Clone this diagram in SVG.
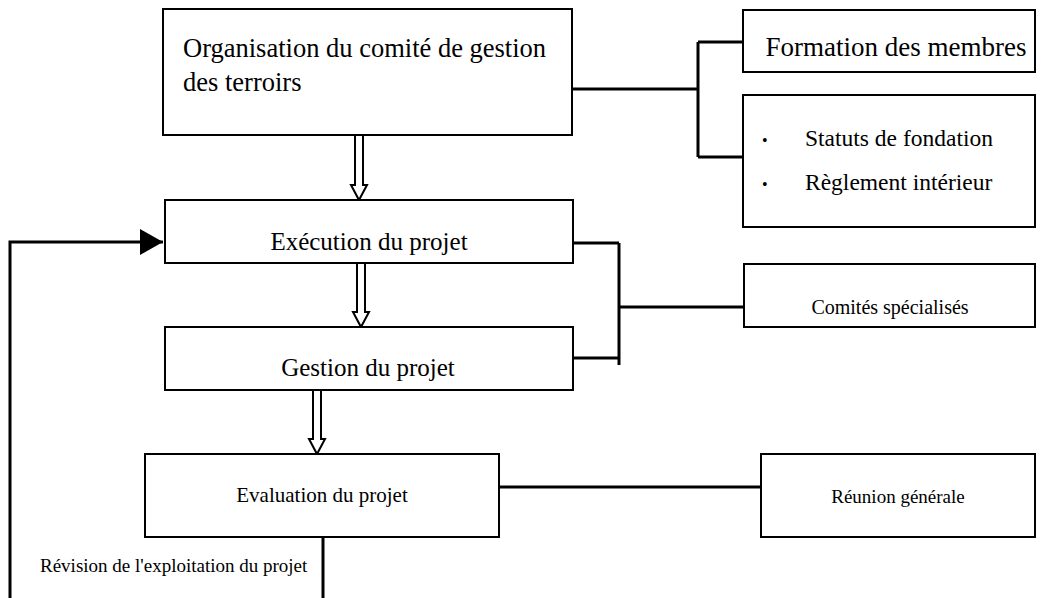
<svg xmlns="http://www.w3.org/2000/svg" width="1043" height="598" viewBox="0 0 1043 598">
<style>
.box{fill:#fff;stroke:#000;stroke-width:2}
.t{font-family:"Liberation Serif","Times New Roman",serif;fill:#000}
.c{text-anchor:middle}
.ln{fill:none;stroke:#000;stroke-width:3}
.dbl{fill:#fff;stroke:#000;stroke-width:2}
</style>
<defs>
<marker id="ah" markerUnits="userSpaceOnUse" markerWidth="24" markerHeight="26" refX="23" refY="13" orient="auto">
<path d="M0,0 L23,13 L0,26 z" fill="#000"/>
</marker>
<path id="darr" d="M-4,0 V49 H-8 L0,64 L8,49 H4 V0"/>
</defs>
<rect width="1043" height="598" fill="#fff"/>
<g id="connectors">
<path class="ln" d="M573,89 H698 M698,42 V157 M698,42 H743 M698,157 H743"/>
<path class="ln" d="M573,243 H619 M573,358 H619 M619,243 V365 M619,307 H744"/>
<path class="ln" d="M499,487 H761"/>
<path class="ln" d="M323,537 V598 M10,598 V242 H163" marker-end="url(#ah)"/>
<use href="#darr" class="dbl" x="359" y="136"/>
<use href="#darr" class="dbl" x="361" y="263"/>
<use href="#darr" class="dbl" x="317" y="390"/>
</g>
<g id="n-organisation">
<rect class="box" x="163" y="9" width="409" height="126"/>
<text class="t" x="183" y="57" font-size="26.5">Organisation du comité de gestion</text>
<text class="t" x="183" y="91" font-size="26.5">des terroirs</text>
</g>
<g id="n-formation">
<rect class="box" x="743" y="10" width="292" height="62"/>
<text class="t c" x="896" y="56" font-size="27">Formation des membres</text>
</g>
<g id="n-statuts">
<rect class="box" x="743" y="95" width="292" height="132"/>
<text class="t" font-size="23.5"><tspan x="762" y="146" font-size="16">•</tspan><tspan x="805" y="146">Statuts de fondation</tspan></text>
<text class="t" font-size="23.5"><tspan x="762" y="190" font-size="16">•</tspan><tspan x="805" y="190">Règlement intérieur</tspan></text>
</g>
<g id="n-execution">
<rect class="box" x="165" y="200" width="408" height="63"/>
<text class="t c" x="369" y="250" font-size="25">Exécution du projet</text>
</g>
<g id="n-comites">
<rect class="box" x="744" y="264" width="291" height="63"/>
<text class="t c" x="890" y="314" font-size="20">Comités spécialisés</text>
</g>
<g id="n-gestion">
<rect class="box" x="165" y="327" width="408" height="63"/>
<text class="t c" x="368" y="376" font-size="25">Gestion du projet</text>
</g>
<g id="n-evaluation">
<rect class="box" x="145" y="454" width="354" height="83"/>
<text class="t c" x="322" y="502" font-size="21">Evaluation du projet</text>
</g>
<g id="n-reunion">
<rect class="box" x="761" y="454" width="274" height="83"/>
<text class="t c" x="898" y="503" font-size="19">Réunion générale</text>
</g>
<g id="label-revision">
<text class="t" x="40" y="572" font-size="19">Révision de l'exploitation du projet</text>
</g>
</svg>
